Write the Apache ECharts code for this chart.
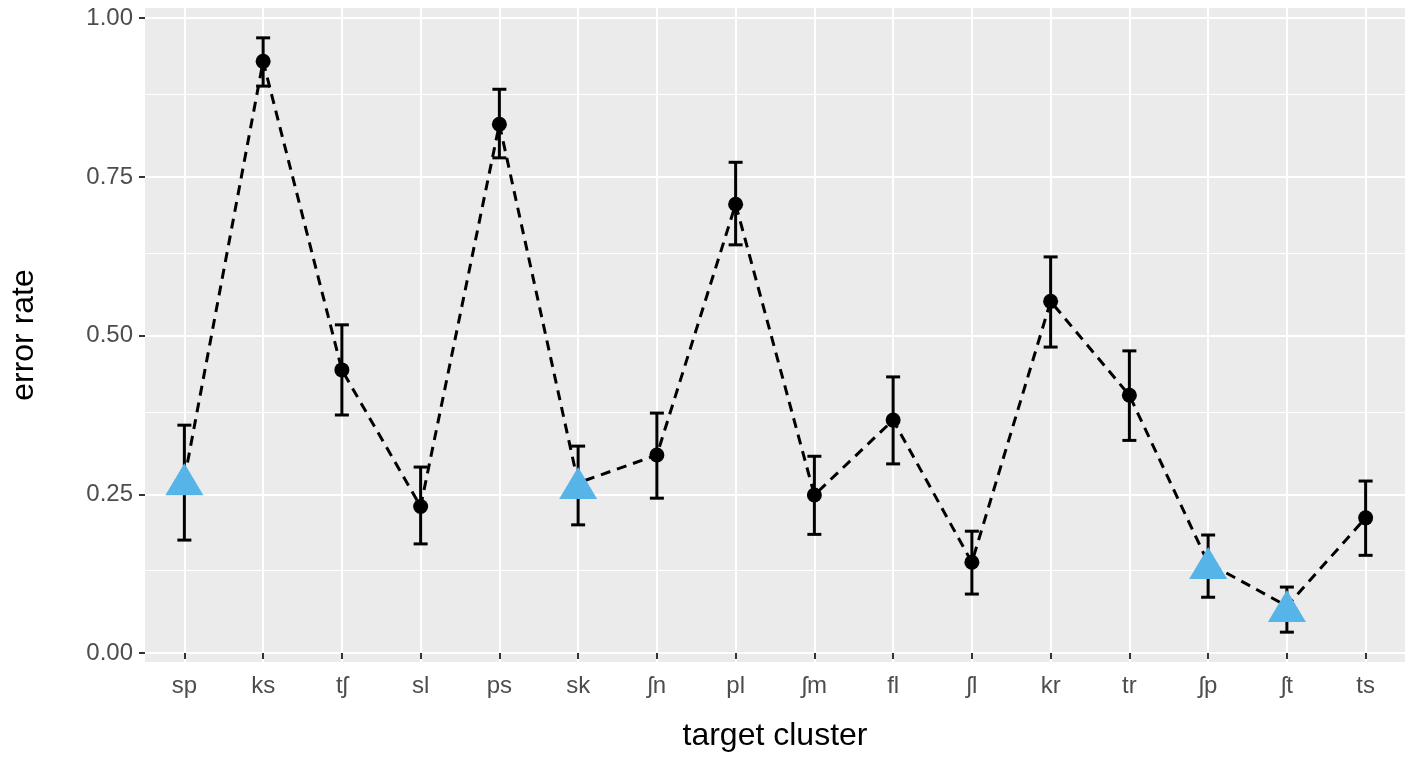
<!DOCTYPE html>
<html><head><meta charset="utf-8">
<script src="https://cdn.jsdelivr.net/npm/echarts@6/dist/echarts.min.js"></script>
<style>html,body{margin:0;padding:0;background:#fff}#c{width:1417px;height:764px}</style>
</head><body><div id="c"></div>
<script>
var clusters = ['sp','ks','tʃ','sl','ps','sk','ʃn','pl','ʃm','fl','ʃl','kr','tr','ʃp','ʃt','ts'];
var rate  = [0.274,0.932,0.446,0.231,0.833,0.268,0.312,0.707,0.249,0.367,0.143,0.554,0.406,0.142,0.074,0.213];
var upper = [0.359,0.969,0.517,0.293,0.888,0.326,0.378,0.773,0.310,0.435,0.192,0.624,0.476,0.186,0.104,0.271];
var lower = [0.178,0.893,0.375,0.172,0.780,0.202,0.244,0.643,0.187,0.298,0.093,0.482,0.335,0.088,0.033,0.154];
var triIdx = [0,5,13,14];
var yMajor = [0,0.25,0.5,0.75,1];
var yMinor = [0.125,0.375,0.625,0.875];

var errData = clusters.map(function(c,i){return [i,lower[i],upper[i]];});
var circles = rate.map(function(v,i){return triIdx.indexOf(i)<0 ? [i,v] : null;}).filter(Boolean);
var tris = triIdx.map(function(i){return [i,rate[i]];});

var gridLines = [];
yMinor.forEach(function(v){gridLines.push({yAxis:v,lineStyle:{width:1}});});
yMajor.forEach(function(v){gridLines.push({yAxis:v,lineStyle:{width:2}});});
clusters.forEach(function(c){gridLines.push({xAxis:c,lineStyle:{width:2}});});

var chart = echarts.init(document.getElementById('c'));
chart.setOption({
  animation:false,
  grid:{left:140,right:12,top:8,bottom:102,show:true,backgroundColor:'#EBEBEB',borderWidth:0},
  xAxis:{type:'category',data:clusters,boundaryGap:true,
    name:'target cluster',nameLocation:'middle',nameGap:58,
    nameTextStyle:{fontSize:32,color:'#000',fontFamily:'Liberation Sans'},
    axisLine:{show:false},axisTick:{show:true,alignWithLabel:true,length:6,lineStyle:{color:'#333',width:2}},
    axisLabel:{fontSize:24,color:'#4D4D4D',margin:12,fontFamily:'Liberation Sans'},splitLine:{show:false}},
  yAxis:{type:'value',min:-0.014,max:1.016,
    name:'error rate',nameLocation:'middle',nameGap:105,
    nameTextStyle:{fontSize:32,color:'#000',fontFamily:'Liberation Sans'},
    axisLine:{show:false},
    axisTick:{show:true,length:6,customValues:yMajor,lineStyle:{color:'#333',width:2}},
    axisLabel:{fontSize:24,color:'#4D4D4D',margin:12,customValues:yMajor,fontFamily:'Liberation Sans',
      formatter:function(v){return v.toFixed(2);}},
    splitLine:{show:false}},
  series:[
    {type:'line',data:[],silent:true,z:0,
     markLine:{silent:true,z:0,symbol:'none',label:{show:false},lineStyle:{color:'#fff',type:'solid'},data:gridLines}},
    {type:'line',data:rate,symbol:'none',z:3,
     lineStyle:{color:'#000',width:3,type:[10,7]}},
    {type:'custom',z:10,data:errData,
     renderItem:function(params,api){
       var x=api.value(0);
       var lo=api.coord([x,api.value(1)]), hi=api.coord([x,api.value(2)]);
       var w=7, st={stroke:'#000',lineWidth:3,lineDash:null,fill:null};
       return {type:'group',children:[
         {type:'line',shape:{x1:lo[0],y1:lo[1],x2:hi[0],y2:hi[1]},style:st},
         {type:'line',shape:{x1:lo[0]-w,y1:lo[1],x2:lo[0]+w,y2:lo[1]},style:st},
         {type:'line',shape:{x1:hi[0]-w,y1:hi[1],x2:hi[0]+w,y2:hi[1]},style:st}]};
     }},
    {type:'scatter',data:circles,symbol:'circle',symbolSize:15,z:11,itemStyle:{color:'#000',opacity:1}},
    {type:'scatter',data:tris,symbol:'triangle',symbolSize:[38,32],z:12,itemStyle:{color:'#56B4E9',opacity:1}}
  ]
});
</script></body></html>
